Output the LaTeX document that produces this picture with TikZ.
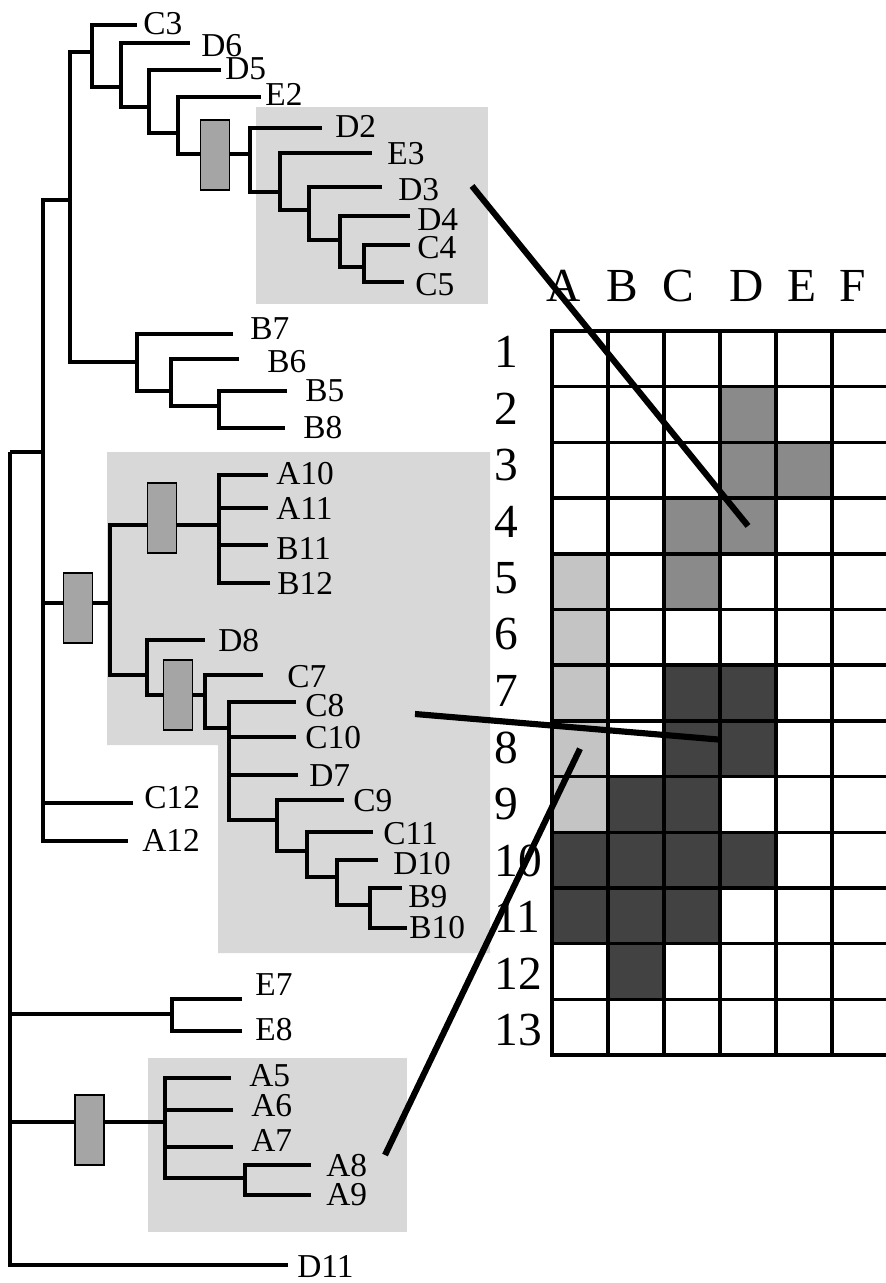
\documentclass[tikz,border=0pt]{standalone}
\usepackage{fontspec}
\setmainfont{Liberation Serif}
\definecolor{regiongray}{RGB}{216,216,216}
\definecolor{boxgray}{RGB}{165,165,165}
\definecolor{cellmid}{RGB}{138,138,138}
\definecolor{celllight}{RGB}{196,196,196}
\definecolor{celldark}{RGB}{66,66,66}
\begin{document}
\begin{tikzpicture}[x=0.02cm, y=-0.02cm,
    branch/.style = {line width=2pt},
    leaf/.style = {anchor=west, inner sep=0pt, font=\fontsize{19}{22}\selectfont},
    synbox/.style = {draw, line width=0.7pt, fill=boxgray, minimum width=0.58cm, minimum height=1.4cm, inner sep=0pt},
    cell/.style = {minimum width=1.12cm, minimum height=1.114cm, inner sep=0pt, outer sep=0pt},
    axis/.style = {inner sep=0pt, font=\fontsize{27}{32}\selectfont},
    link/.style = {line width=3.5pt}]
    \useasboundingbox (0,0) rectangle (885,1283);

    % shaded clades
    \fill[regiongray] (256,107) rectangle (488,304);
    \fill[regiongray] (107,452) -- (490,452) -- (490,953) -- (218,953) -- (218,745) -- (107,745) -- cycle;
    \fill[regiongray] (148,1058) rectangle (407,1232);

    % leaves: branch end / label position
    \foreach \n/\ex/\ey/\lx/\ly in {C3/137/25/143/24, D6/190/43/201/46, D5/221/70/225/69, E2/261/97/265/94,
        D2/322/128/335/126, E3/372/153/387/154, D3/382/187/398/190, D4/410/216/417/220, C4/410/245/417/248,
        C5/404/282/415/285, B7/233/334/250/329, B6/239/359/267/362, B5/287/391/305/391, B8/285/428/303/428,
        A10/268/475/276/474, A11/268/508/276/508, B11/268/545/276/549, B12/270/583/277/583,
        D8/205/640/218/641, C7/263/675/287/677, C8/296/702/305/706, C10/296/737/305/738, D7/298/775/309/776,
        C9/344/800/353/801, C11/373/832/383/834, D10/378/860/393/864, B9/402/888/408/897, B10/407/928/409/928,
        C12/133/803/144/798, A12/128/841/142/840, E7/242/999/255/985, E8/242/1031/255/1030,
        A5/231/1078/249/1076, A6/233/1110/251/1106, A7/233/1147/251/1140, A8/311/1165/326/1166,
        A9/311/1195/326/1195, D11/288/1265/297/1266}
    {
        \coordinate (t\n) at (\ex,\ey);
        \node[leaf] (\n) at (\lx,\ly) {\n};
    }

    % inner nodes
    \coordinate (u1) at (92,52);
    \coordinate (u2) at (121,87);
    \coordinate (u3) at (149,107);
    \coordinate (u4) at (178,133);
    \coordinate (u5) at (250,154);
    \coordinate (u6) at (280,192);
    \coordinate (u7) at (309,210);
    \coordinate (u8) at (340,240);
    \coordinate (u9) at (364,267);
    \coordinate (g1) at (70,200);
    \coordinate (b1) at (137,362);
    \coordinate (b2) at (171,391);
    \coordinate (b3) at (219,406);
    \coordinate (r1) at (43,452);
    \coordinate (k1) at (110,603);
    \coordinate (a1) at (219,525);
    \coordinate (d1) at (147,675);
    \coordinate (d2) at (205,695);
    \coordinate (d3) at (229,728);
    \coordinate (d4) at (277,820);
    \coordinate (d5) at (307,851);
    \coordinate (d6) at (337,877);
    \coordinate (d7) at (370,905);
    \coordinate (e1) at (172,1014);
    \coordinate (f1) at (165,1122);
    \coordinate (f2) at (245,1178);
    \coordinate (root) at (10,452);

    \draw[branch] (tC3) -| (u1)  (u2) -| (u1);
    \draw[branch] (tD6) -| (u2)  (u3) -| (u2);
    \draw[branch] (tD5) -| (u3)  (u4) -| (u3);
    \draw[branch] (tE2) -| (u4)  (u5) -| (u4);
    \draw[branch] (tD2) -| (u5)  (u6) -| (u5);
    \draw[branch] (tE3) -| (u6)  (u7) -| (u6);
    \draw[branch] (tD3) -| (u7)  (u8) -| (u7);
    \draw[branch] (tD4) -| (u8)  (u9) -| (u8);
    \draw[branch] (tC4) -| (u9)  (tC5) -| (u9);
    \draw[branch] (u1) -| (g1)  (b1) -| (g1);
    \draw[branch] (tB7) -| (b1)  (b2) -| (b1);
    \draw[branch] (tB6) -| (b2)  (b3) -| (b2);
    \draw[branch] (tB5) -| (b3)  (tB8) -| (b3);
    \draw[branch] (g1) -| (r1)  (k1) -| (r1)  (tC12) -| (r1)  (tA12) -| (r1);
    \draw[branch] (a1) -| (k1)  (d1) -| (k1);
    \draw[branch] (tA10) -| (a1)  (tA11) -| (a1)  (tB11) -| (a1)  (tB12) -| (a1);
    \draw[branch] (tD8) -| (d1)  (d2) -| (d1);
    \draw[branch] (tC7) -| (d2)  (d3) -| (d2);
    \draw[branch] (tC8) -| (d3)  (tC10) -| (d3)  (tD7) -| (d3)  (d4) -| (d3);
    \draw[branch] (tC9) -| (d4)  (d5) -| (d4);
    \draw[branch] (tC11) -| (d5)  (d6) -| (d5);
    \draw[branch] (tD10) -| (d6)  (d7) -| (d6);
    \draw[branch] (tB9) -| (d7)  (tB10) -| (d7);
    \draw[branch] (r1) -| (root)  (e1) -| (root)  (f1) -| (root)  (tD11) -| (root);
    \draw[branch] (tE7) -| (e1)  (tE8) -| (e1);
    \draw[branch] (tA5) -| (f1)  (tA6) -| (f1)  (tA7) -| (f1)  (f2) -| (f1);
    \draw[branch] (tA8) -| (f2)  (tA9) -| (f2);

    \node[synbox] (box1) at (215,155) {};
    \node[synbox] (box2) at (78,608) {};
    \node[synbox] (box3) at (162,518) {};
    \node[synbox] (box4) at (178,695) {};
    \node[synbox] (box5) at (89.5,1130) {};

    % table
    \foreach \r in {1,...,13}
        \foreach \c in {1,...,6}
            \path (552+56*\c-28, 331+55.7*\r-27.85) node[cell] (c-\r-\c) {};
    \foreach \r/\c/\col in {2/4/cellmid, 3/4/cellmid, 3/5/cellmid, 4/3/cellmid, 4/4/cellmid, 5/1/celllight,
        5/3/cellmid, 6/1/celllight, 7/1/celllight, 7/3/celldark, 7/4/celldark, 8/1/celllight, 8/3/celldark,
        8/4/celldark, 9/1/celllight, 9/2/celldark, 9/3/celldark, 10/1/celldark, 10/2/celldark, 10/3/celldark,
        10/4/celldark, 11/1/celldark, 11/2/celldark, 11/3/celldark, 12/2/celldark}
        \fill[\col] (c-\r-\c.south west) rectangle (c-\r-\c.north east);
    \foreach \r in {1,...,13}
        \foreach \c in {1,...,6}
            \draw[branch] (c-\r-\c.south west) rectangle (c-\r-\c.north east);

    \foreach \l/\x in {A/564, B/622, C/678, D/747, E/802, F/853}
        \node[axis] (col\l) at (\x,286) {\l};
    \foreach \i in {1,...,13}
        \node[axis, anchor=west] (row\i) at (494, 352+56.5*\i-56.5) {\i};

    % links from clades to the table
    \coordinate (fromD) at (472,186);
    \coordinate (fromC) at (415,714);
    \coordinate (fromA) at (385,1155);
    \draw[link] (fromD) -- (c-4-4.center);
    \draw[link] (fromC) -- (c-8-4.162);
    \draw[link] (fromA) -- (c-8-1.center);
\end{tikzpicture}
\end{document}
